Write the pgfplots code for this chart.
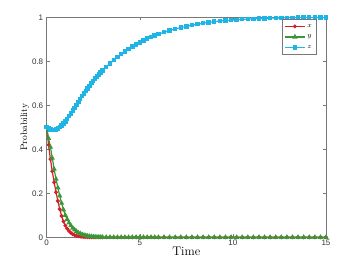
\documentclass[border=0pt]{standalone}
\usepackage{pgfplots}
\pgfplotsset{compat=1.18}
\usepackage{fontspec}
\newfontfamily\ticksans{Liberation Sans}
\definecolor{cx}{RGB}{216,30,40}
\definecolor{cy}{RGB}{60,150,55}
\definecolor{cz}{RGB}{30,180,230}
\definecolor{axgray}{RGB}{120,120,120}
\begin{document}
\begin{tikzpicture}[x=1pt,y=1pt]
\begin{axis}[
  name=ax,
  scale only axis,
  width=279.3pt, height=220pt,
  xmin=0, xmax=15, ymin=0, ymax=1,
  xtick={0,5,10,15}, ytick={0,0.2,0.4,0.6,0.8,1},
  yticklabels={0,0.2,0.4,0.6,0.8,1},
  axis line style={axgray, line width=0.5pt},
  tick style={axgray, line width=0.5pt},
  tick align=inside, major tick length=3pt,
  /pgf/number format/assume math mode=true,
  tick label style={font=\fontsize{8}{9}\ticksans, text=black!80},
  xticklabel style={yshift=1pt},
  xlabel={Time}, ylabel={Probability},
  xlabel style={font=\fontsize{12.5}{13}\selectfont, yshift=5pt},
  ylabel style={font=\fontsize{9.5}{11}\selectfont, yshift=-4pt},
  legend style={at={(0.965,0.99)}, anchor=north east, font=\fontsize{7}{8}\selectfont,
    draw=axgray, line width=0.4pt, inner xsep=2pt, inner ysep=2.5pt, row sep=2pt,
    legend cell align=left},
  legend image code/.code={\draw[#1] (0pt,0pt) -- (10pt,0pt) plot coordinates {(10pt,0pt)} -- (20pt,0pt);},
  every axis plot/.append style={line width=1.2pt},
]
\addplot[cx, mark=*, mark size=1.3pt] coordinates {
(0,0.5)(0.1,0.42)(0.2,0.355)(0.3,0.30)(0.4,0.25)(0.5,0.205)(0.6,0.165)(0.7,0.128)(0.8,0.097)(0.9,0.072)
(1.0,0.053)(1.1,0.039)(1.2,0.028)(1.3,0.020)(1.4,0.014)(1.5,0.010)(1.6,0.007)(1.7,0.005)(1.8,0.0035)(1.9,0.0025)
(2.0,0.0017)(2.1,0.0012)(2.2,0.0008)(2.3,0.0005)(2.4,0.0003)(2.5,0.0002)(2.6,0.0001)(2.7,0.0001)(2.8,0.0001)(2.9,0)(3.0,0)
(3.2,0)(3.4,0)(3.6,0)(3.8,0)(4.0,0)(4.2,0)(4.4,0)(4.6,0)(4.8,0)(5.0,0)(5.2,0)(5.4,0)(5.6,0)(5.8,0)(6.0,0)
(6.3,0)(6.6,0)(6.9,0)(7.2,0)(7.5,0)(7.8,0)(8.1,0)(8.4,0)(8.7,0)(9.0,0)(9.3,0)(9.6,0)(9.9,0)(10.2,0)(10.5,0)
(10.8,0)(11.1,0)(11.4,0)(11.7,0)(12.0,0)(12.3,0)(12.6,0)(12.9,0)(13.2,0)(13.5,0)(13.8,0)(14.1,0)(14.4,0)(14.7,0)(15.0,0)
};
\addlegendentry{$x$}
\addplot[cy, mark=triangle*, mark size=1.9pt] coordinates {
(0,0.5)(0.1,0.45)(0.2,0.41)(0.3,0.36)(0.4,0.31)(0.5,0.265)(0.6,0.225)(0.7,0.188)(0.8,0.155)(0.9,0.125)
(1.0,0.100)(1.1,0.082)(1.2,0.066)(1.3,0.053)(1.4,0.042)(1.5,0.034)(1.6,0.027)(1.7,0.021)(1.8,0.017)(1.9,0.013)
(2.0,0.010)(2.1,0.008)(2.2,0.006)(2.3,0.0045)(2.4,0.0035)(2.5,0.0026)(2.6,0.002)(2.7,0.0015)(2.8,0.0011)(2.9,0.0008)(3.0,0.0006)
(3.2,0.0003)(3.4,0.0002)(3.6,0.0001)(3.8,0)(4.0,0)(4.2,0)(4.4,0)(4.6,0)(4.8,0)(5.0,0)(5.2,0)(5.4,0)(5.6,0)(5.8,0)(6.0,0)
(6.3,0)(6.6,0)(6.9,0)(7.2,0)(7.5,0)(7.8,0)(8.1,0)(8.4,0)(8.7,0)(9.0,0)(9.3,0)(9.6,0)(9.9,0)(10.2,0)(10.5,0)
(10.8,0)(11.1,0)(11.4,0)(11.7,0)(12.0,0)(12.3,0)(12.6,0)(12.9,0)(13.2,0)(13.5,0)(13.8,0)(14.1,0)(14.4,0)(14.7,0)(15.0,0)
};
\addlegendentry{$y$}
\addplot[cz, mark=square*, mark size=1.6pt] coordinates {
(0,0.500)(0.1,0.496)(0.2,0.490)(0.3,0.487)(0.4,0.487)(0.5,0.490)(0.6,0.495)(0.7,0.501)(0.8,0.508)(0.9,0.517)
(1.0,0.527)(1.1,0.538)(1.2,0.550)(1.3,0.563)(1.4,0.576)(1.5,0.589)(1.6,0.602)(1.7,0.615)(1.8,0.628)(1.9,0.641)
(2.0,0.653)(2.1,0.665)(2.2,0.677)(2.3,0.689)(2.4,0.700)(2.5,0.711)(2.6,0.721)(2.7,0.731)(2.8,0.740)(2.9,0.749)(3.0,0.758)
(3.2,0.775)(3.4,0.790)(3.6,0.805)(3.8,0.819)(4.0,0.832)(4.2,0.845)(4.4,0.856)(4.6,0.867)(4.8,0.877)(5.0,0.886)
(5.2,0.895)(5.4,0.903)(5.6,0.910)(5.8,0.917)(6.0,0.923)
(6.3,0.932)(6.6,0.940)(6.9,0.947)(7.2,0.953)(7.5,0.959)(7.8,0.964)(8.1,0.969)(8.4,0.973)(8.7,0.977)(9.0,0.980)
(9.3,0.983)(9.6,0.985)(9.9,0.987)(10.2,0.989)(10.5,0.991)(10.8,0.992)(11.1,0.993)(11.4,0.994)(11.7,0.995)(12.0,0.996)
(12.3,0.9965)(12.6,0.997)(12.9,0.9975)(13.2,0.998)(13.5,0.9985)(13.8,0.9988)(14.1,0.999)(14.4,0.9992)(14.7,0.9994)(15.0,0.9995)
};
\addlegendentry{$z$}
\end{axis}
\useasboundingbox (ax.south west) ++(-46.7pt,-42.7pt) rectangle ([xshift=28pt,yshift=17.3pt]ax.north east);
\end{tikzpicture}
\end{document}
